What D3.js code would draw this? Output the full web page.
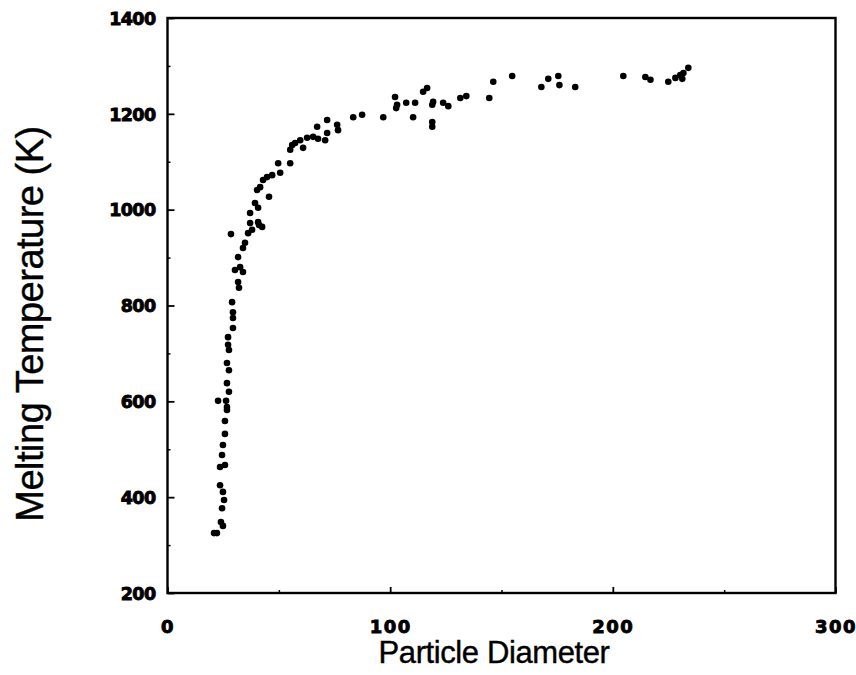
<!DOCTYPE html>
<html>
<head>
<meta charset="utf-8">
<script src="https://cdn.jsdelivr.net/npm/d3@7"></script>
<style>
  html, body { margin: 0; padding: 0; background: #fff; }
  svg { display: block; }
</style>
</head>
<body>
<svg id="chart" width="856" height="675"></svg>
<script>
// ---- data ----
const diameter = [
  20.9, 22.2, 24.9, 24.0, 24.5, 25.4, 24.9, 23.6, 23.6, 25.8,
  24.5, 24.9, 25.8, 25.8, 22.7, 26.3, 26.7, 26.7, 27.6, 26.7,
  27.6, 26.7, 27.6, 27.2, 27.2, 29.4, 29.4, 29.4, 29.0, 32.1,
  31.7, 30.3, 33.9, 32.6, 31.7, 33.9, 34.8, 36.2, 28.5, 38.0,
  41.1, 42.5, 40.7, 37.1, 37.1, 40.7, 39.3, 45.6, 40.2, 41.6,
  42.9, 44.7, 47.0, 50.6, 49.7, 55.1, 55.1, 56.0, 57.3, 59.6,
  62.7, 65.4, 60.9, 67.6, 67.2, 71.7, 71.7, 70.8, 76.2, 76.6,
  83.4, 87.4, 96.9, 102.2, 103.1, 102.7, 107.2, 111.2, 110.3, 116.6,
  114.8, 119.3, 118.9, 118.9, 118.9, 123.8, 126.1, 131.5, 134.2, 144.5,
  146.3, 154.8, 167.9, 171.0, 175.5, 176.0, 183.1, 204.7, 214.6, 216.9,
  224.9, 228.1, 230.3, 231.7, 233.9, 231.2
];
const meltTemp = [
  325, 325, 340, 348, 377, 394, 411, 425, 463, 467,
  488, 509, 532, 559, 601, 601, 588, 582, 620, 638,
  665, 680, 707, 718, 734, 753, 774, 786, 807, 837,
  849, 874, 870, 880, 901, 920, 931, 951, 949, 958,
  968, 964, 974, 972, 993, 1004, 1014, 1027, 1041, 1047,
  1062, 1068, 1072, 1077, 1097, 1097, 1125, 1135, 1139, 1145,
  1150, 1152, 1129, 1148, 1173, 1187, 1160, 1145, 1177, 1166,
  1193, 1198, 1193, 1235, 1219, 1212, 1223, 1223, 1193, 1254,
  1246, 1225, 1219, 1183, 1173, 1223, 1216, 1233, 1237, 1233,
  1267, 1279, 1256, 1273, 1279, 1260, 1256, 1279, 1277, 1271,
  1267, 1275, 1281, 1285, 1296, 1273
];
const xTicks = [0, 100, 200, 300];
const xMinorTicks = [50, 150, 250];
const yTicks = [200, 400, 600, 800, 1000, 1200, 1400];
const yMinorTicks = [300, 500, 700, 900, 1100, 1300];
const xTitle = "Particle Diameter";
const yTitle = "Melting Temperature (K)";

// ---- layout ----
const svg = d3.select("#chart");
const plotL = 167.5, plotR = 835.5, plotT = 18, plotB = 593;

const x = d3.scaleLinear().domain([0, 300]).range([plotL, plotR]);
const y = d3.scaleLinear().domain([200, 1400]).range([plotB, plotT]);

// frame
svg.append("rect")
  .attr("x", plotL).attr("y", plotT)
  .attr("width", plotR - plotL).attr("height", plotB - plotT)
  .attr("fill", "none").attr("stroke", "#000").attr("stroke-width", 2.4);

// bottom axis (inward ticks)
const xAxis = d3.axisBottom(x).tickValues(xTicks).tickSize(-6).tickPadding(0)
  .tickFormat(d3.format("d"));
const gx = svg.append("g").attr("transform", `translate(0,${plotB})`).call(xAxis);
gx.select(".domain").remove();
gx.selectAll(".tick line").attr("stroke", "#000").attr("stroke-width", 1.8);
gx.selectAll(".tick text")
  .attr("y", 40).attr("dy", 0)
  .attr("font-family", "'DejaVu Sans', sans-serif")
  .attr("font-weight", "bold").attr("font-size", 18)
  .attr("letter-spacing", 1.5)
  .attr("stroke", "#000").attr("stroke-width", 0.9)
  .attr("fill", "#000");

const xMinor = d3.axisBottom(x).tickValues(xMinorTicks).tickSize(-3).tickFormat("");
const gxm = svg.append("g").attr("transform", `translate(0,${plotB})`).call(xMinor);
gxm.select(".domain").remove();
gxm.selectAll(".tick line").attr("stroke", "#000").attr("stroke-width", 1.5);

// left axis (inward ticks)
const yAxis = d3.axisLeft(y).tickValues(yTicks).tickSize(-7).tickPadding(0)
  .tickFormat(d3.format("d"));
const gy = svg.append("g").attr("transform", `translate(${plotL},0)`).call(yAxis);
gy.select(".domain").remove();
gy.selectAll(".tick line").attr("stroke", "#000").attr("stroke-width", 1.8);
gy.selectAll(".tick text")
  .attr("x", -12).attr("dy", "0.36em")
  .attr("font-family", "'DejaVu Sans', sans-serif")
  .attr("font-weight", "bold").attr("font-size", 17.5)
  .attr("letter-spacing", -0.6)
  .attr("stroke", "#000").attr("stroke-width", 0.9)
  .attr("fill", "#000");

const yMinor = d3.axisLeft(y).tickValues(yMinorTicks).tickSize(-3).tickFormat("");
const gym = svg.append("g").attr("transform", `translate(${plotL},0)`).call(yMinor);
gym.select(".domain").remove();
gym.selectAll(".tick line").attr("stroke", "#000").attr("stroke-width", 1.5);

// points
const pts = diameter.map((d, i) => ({ d, t: meltTemp[i] }));
svg.append("g").selectAll("circle").data(pts).join("circle")
  .attr("cx", p => x(p.d))
  .attr("cy", p => y(p.t))
  .attr("r", 3.3)
  .attr("fill", "#000");

// axis titles
svg.append("text")
  .attr("x", 494).attr("y", 663)
  .attr("text-anchor", "middle")
  .attr("font-family", "'Liberation Sans', Arial, sans-serif")
  .attr("font-size", 31)
  .attr("letter-spacing", -0.4)
  .attr("stroke", "#000").attr("stroke-width", 0.4)
  .attr("fill", "#000")
  .text(xTitle);

svg.append("text")
  .attr("transform", "translate(43,324) rotate(-90)")
  .attr("text-anchor", "middle")
  .attr("font-family", "'Liberation Sans', Arial, sans-serif")
  .attr("font-size", 38)
  .attr("letter-spacing", -0.5)
  .attr("stroke", "#000").attr("stroke-width", 0.4)
  .attr("fill", "#000")
  .text(yTitle);
</script>
</body>
</html>
